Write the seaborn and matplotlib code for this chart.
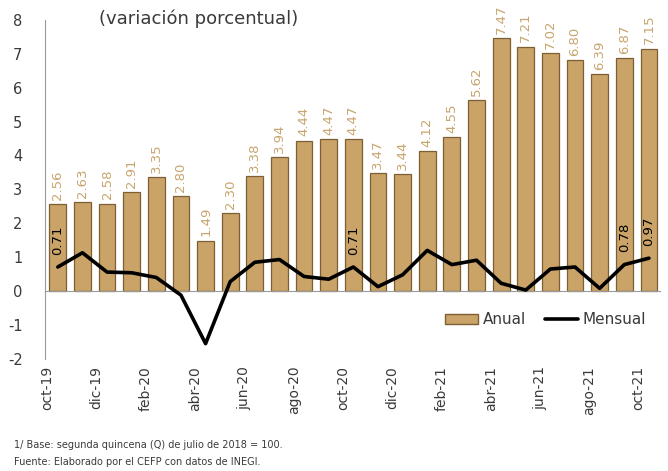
import numpy as np
import pandas as pd
import matplotlib
matplotlib.use("Agg")
import matplotlib.pyplot as plt
import seaborn as sns
from matplotlib.patches import Patch
from matplotlib.lines import Line2D

# Data
months = ["oct-19", "nov-19", "dic-19", "ene-20", "feb-20", "mar-20", "abr-20", "may-20",
          "jun-20", "jul-20", "ago-20", "sep-20", "oct-20", "nov-20", "dic-20", "ene-21",
          "feb-21", "mar-21", "abr-21", "may-21", "jun-21", "jul-21", "ago-21", "sep-21", "oct-21"]
anual = [2.56, 2.63, 2.58, 2.91, 3.35, 2.80, 1.49, 2.30, 3.38, 3.94, 4.44, 4.47, 4.47,
         3.47, 3.44, 4.12, 4.55, 5.62, 7.47, 7.21, 7.02, 6.80, 6.39, 6.87, 7.15]
mensual = [0.71, 1.13, 0.56, 0.54, 0.40, -0.12, -1.55, 0.28, 0.85, 0.93, 0.43, 0.35, 0.71,
           0.13, 0.48, 1.20, 0.78, 0.91, 0.23, 0.03, 0.65, 0.71, 0.08, 0.78, 0.97]
mensual_labeled = [0, 12, 23, 24]  # points with a printed value

df = pd.DataFrame({"idx": np.arange(len(months)), "mes": months,
                   "anual": anual, "mensual": mensual})

gold = "#C9A367"
gold_edge = "#7E5F33"
label_gold = "#C8A56E"
txt = "#3A3A3A"

sns.set_style("white")
plt.rcParams["font.family"] = ["DejaVu Sans"]
plt.rcParams["axes.unicode_minus"] = False

fig = plt.figure(figsize=(6.68, 4.71), dpi=100)
ax = fig.add_axes([0.067, 0.238, 0.921, 0.72])

sns.barplot(data=df, x="idx", y="anual", native_scale=True, color=gold, saturation=1,
            width=0.68, edgecolor=gold_edge, linewidth=0.9, ax=ax, zorder=2)
sns.lineplot(data=df, x="idx", y="mensual", color="black", linewidth=2.6, ax=ax, zorder=3)

# value labels on bars
for i, v in zip(df["idx"], df["anual"]):
    ax.annotate(f"{v:.2f}", (i, v), xytext=(0, 3), textcoords="offset points",
                rotation=90, ha="center", va="bottom", fontsize=9.5, color=label_gold)

# value labels on line
for i in mensual_labeled:
    ax.annotate(f"{mensual[i]:.2f}", (i, mensual[i]), xytext=(0, 9), textcoords="offset points",
                rotation=90, ha="center", va="bottom", fontsize=9.5, color="black")

ax.set_xlim(-0.53, 24.45)
ax.set_ylim(-2, 8)
ax.set_yticks(range(-2, 9))
ax.tick_params(axis="y", labelsize=10.5, labelcolor=txt, length=4, color="#999999", pad=12)

# category axis crosses at zero, tick marks every two categories
ax.spines["bottom"].set_position(("data", 0))
ax.spines["bottom"].set_color("#999999")
ax.spines["left"].set_color("#999999")
ax.spines["top"].set_visible(False)
ax.spines["right"].set_visible(False)
ax.set_xticks(np.arange(1.5, 25, 2))
ax.set_xticklabels([])
ax.tick_params(axis="x", length=5, color="#999999", direction="out")
ax.set_xlabel("")
ax.set_ylabel("")
ax.grid(False)

# month labels at the bottom of the plot area
sec = ax.secondary_xaxis(0)
sec.set_xticks(np.arange(0, 25, 2) - 0.42)
sec.set_xticklabels(months[::2], rotation=90, fontsize=10, color=txt)
sec.tick_params(length=0, pad=5)
sec.spines["bottom"].set_visible(False)

ax.text(0.088, 1.03, "(variación porcentual)", transform=ax.transAxes, ha="left", va="top",
        fontsize=13, color=txt)

handles = [Patch(facecolor=gold, edgecolor=gold_edge, label="Anual"),
           Line2D([0], [0], color="black", linewidth=2.6, label="Mensual")]
ax.legend(handles=handles, loc="center right", bbox_to_anchor=(1.0, 0.115), ncol=2,
          frameon=False, fontsize=11, handlelength=2.2, handletextpad=0.3, columnspacing=1.2,
          labelcolor=txt)

fig.text(0.021, 0.055, "1/ Base: segunda quincena (Q) de julio de 2018 = 100.",
         fontsize=7, color=txt, ha="left", va="center")
fig.text(0.021, 0.02, "Fuente: Elaborado por el CEFP con datos de INEGI.",
         fontsize=7, color=txt, ha="left", va="center")

fig.savefig("out.png", dpi=100)
